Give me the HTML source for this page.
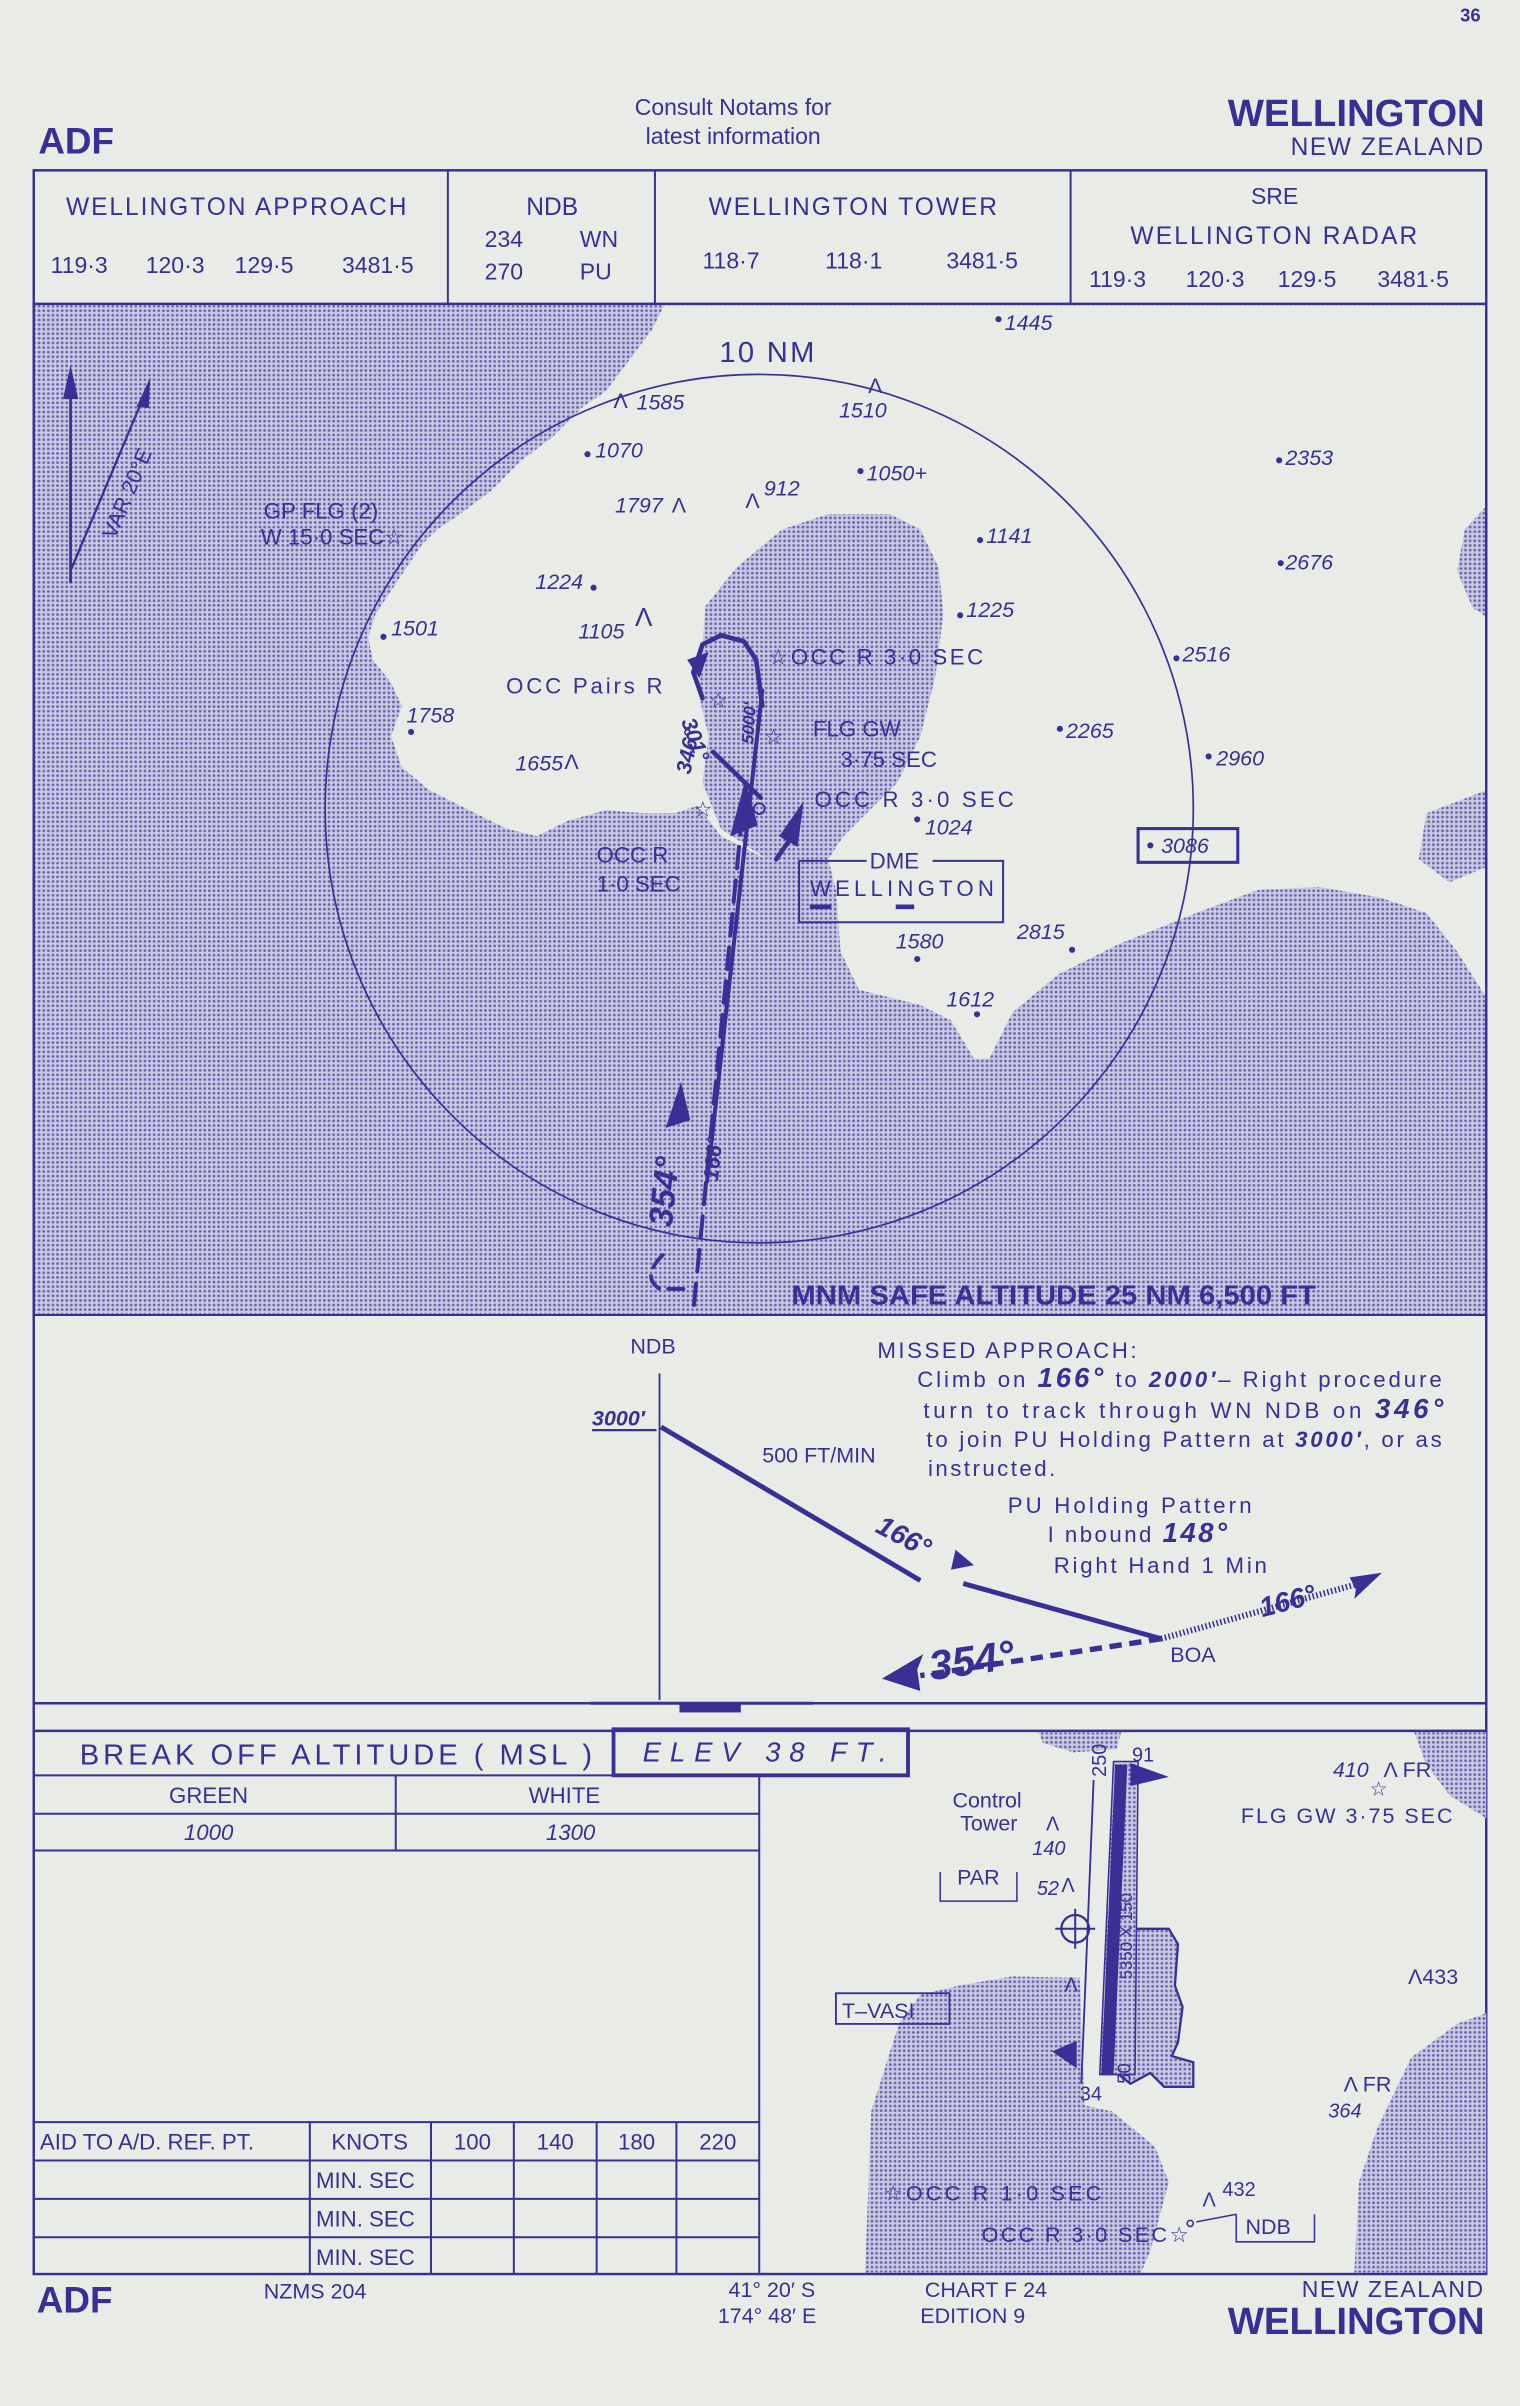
<!DOCTYPE html>
<html><head><meta charset="utf-8"><style>
html,body{margin:0;padding:0;background:#e8ebe6;}
svg{display:block;}
text{font-family:"Liberation Sans",sans-serif;fill:#3a2f95;}
.i{font-style:italic;}
.b{font-weight:bold;}
</style></head><body>
<svg width="1520" height="2406" viewBox="0 0 991 1568" preserveAspectRatio="none" xmlns="http://www.w3.org/2000/svg">
<defs>
<pattern id="ht" width="3" height="3" patternUnits="userSpaceOnUse">
<rect width="3" height="3" fill="#c9c9df"/><circle cx="1.5" cy="1.5" r="0.9" fill="#6a64b4"/>
</pattern>
</defs>
<rect width="991" height="1568" fill="#e8ebe6"/>
<g stroke="#3a2f95" fill="none">
<rect x="22" y="198" width="947" height="659" fill="url(#ht)" stroke="none"/>
<polygon stroke="none" fill="#e8ebe6" points="433,199 969,199 969,330 955,345 950,372 960,396 969,402 969,650 950,620 930,595 900,585 860,578 820,580 780,595 730,615 690,635 660,660 645,690 635,690 620,665 600,655 560,645 548,620 545,580 540,560 500,560 470,545 455,525 440,530 420,530 395,528 370,535 350,545 330,540 300,525 280,515 262,500 255,480 262,460 255,445 243,430 240,415 245,400 255,385 265,370 275,355 285,345 300,335 320,320 340,300 360,285 380,265 395,255 410,235 425,215"/>
<polygon stroke="none" fill="url(#ht)" points="460,395 480,370 510,345 540,335 580,335 600,345 612,370 615,400 610,440 600,480 585,510 565,530 550,545 540,560 500,560 470,540 458,510 462,480 455,450 458,420"/>
<polygon stroke="none" fill="url(#ht)" points="930,530 969,515 969,565 945,575 925,560"/>
<rect x="22" y="111" width="947" height="1371" stroke-width="1.6"/>
<line x1="22" y1="198" x2="969" y2="198" stroke-width="1.6"/>
<line x1="292" y1="111" x2="292" y2="198" stroke-width="1.3"/>
<line x1="427" y1="111" x2="427" y2="198" stroke-width="1.3"/>
<line x1="698" y1="111" x2="698" y2="198" stroke-width="1.3"/>
<line x1="22" y1="857" x2="969" y2="857" stroke-width="1.3"/>
<line x1="22" y1="1110" x2="969" y2="1110" stroke-width="1.6"/>
<line x1="22" y1="1128" x2="969" y2="1128" stroke-width="1.6"/>
<circle cx="495" cy="527" r="283" stroke-width="1.1"/>
<line x1="46" y1="380" x2="46" y2="245" stroke-width="1.8"/>
<line x1="46" y1="372" x2="96" y2="253" stroke-width="1.5"/>
</g>
<polygon points="46,238 41,260 51,260" fill="#3a2f95"/>
<polygon points="98,246 89,265 97,266" fill="#3a2f95"/>
<text x="0" y="0" font-size="14" transform="translate(75,352) rotate(-67)">VAR 20°E</text>

<text x="952" y="14" font-size="12" class="b">36</text>
<text x="25" y="100" font-size="24" class="b">ADF</text>
<text x="478" y="75" font-size="15" text-anchor="middle">Consult Notams for</text>
<text x="478" y="94" font-size="15" text-anchor="middle">latest information</text>
<text x="968" y="82" font-size="25" class="b" text-anchor="end">WELLINGTON</text>
<text x="968" y="101" font-size="16" text-anchor="end" letter-spacing="1">NEW ZEALAND</text>
<text x="43" y="140" font-size="16" textLength="222" lengthAdjust="spacing">WELLINGTON APPROACH</text>
<text x="33" y="178" font-size="15">119·3</text><text x="95" y="178" font-size="15">120·3</text><text x="153" y="178" font-size="15">129·5</text><text x="223" y="178" font-size="15">3481·5</text>
<text x="360" y="140" font-size="16" text-anchor="middle">NDB</text>
<text x="316" y="161" font-size="15">234</text><text x="378" y="161" font-size="15">WN</text>
<text x="316" y="182" font-size="15">270</text><text x="378" y="182" font-size="15">PU</text>
<text x="462" y="140" font-size="16" textLength="188" lengthAdjust="spacing">WELLINGTON TOWER</text>
<text x="458" y="175" font-size="15">118·7</text><text x="538" y="175" font-size="15">118·1</text><text x="617" y="175" font-size="15">3481·5</text>
<text x="831" y="133" font-size="15" text-anchor="middle">SRE</text>
<text x="737" y="159" font-size="16" textLength="187" lengthAdjust="spacing">WELLINGTON RADAR</text>
<text x="710" y="187" font-size="15">119·3</text><text x="773" y="187" font-size="15">120·3</text><text x="833" y="187" font-size="15">129·5</text><text x="898" y="187" font-size="15">3481·5</text>

<g font-size="14" class="i">
<text x="469" y="236" font-size="19" font-style="normal" textLength="62" lengthAdjust="spacing">10 NM</text>
<text x="655" y="215">1445</text><circle cx="651" cy="208" r="2" fill="#3a2f95"/>
<text x="415" y="267">1585</text><text x="400" y="266" font-style="normal">Λ</text>
<text x="547" y="272">1510</text><text x="566" y="256" font-style="normal">Λ</text>
<text x="388" y="298">1070</text><circle cx="383" cy="296" r="2" fill="#3a2f95"/>
<text x="565" y="313">1050+</text><circle cx="561" cy="307" r="2" fill="#3a2f95"/>
<text x="838" y="303">2353</text><circle cx="834" cy="300" r="2" fill="#3a2f95"/>
<text x="401" y="334">1797</text><text x="438" y="334" font-style="normal">Λ</text>
<text x="498" y="323">912</text><text x="486" y="331" font-style="normal">Λ</text>
<text x="643" y="354">1141</text><circle cx="639" cy="352" r="2" fill="#3a2f95"/>
<text x="838" y="371">2676</text><circle cx="835" cy="367" r="2" fill="#3a2f95"/>
<text x="349" y="384">1224</text><circle cx="387" cy="383" r="2" fill="#3a2f95"/>
<text x="630" y="402">1225</text><circle cx="626" cy="401" r="2" fill="#3a2f95"/>
<text x="255" y="414">1501</text><circle cx="250" cy="415" r="2" fill="#3a2f95"/>
<text x="377" y="416">1105</text><text x="414" y="408" font-size="17" font-style="normal">Λ</text>
<text x="771" y="431">2516</text><circle cx="767" cy="429" r="2" fill="#3a2f95"/>
<text x="265" y="471">1758</text><circle cx="268" cy="477" r="2" fill="#3a2f95"/>
<text x="695" y="481">2265</text><circle cx="691" cy="475" r="2" fill="#3a2f95"/>
<text x="793" y="499">2960</text><circle cx="788" cy="493" r="2" fill="#3a2f95"/>
<text x="336" y="502">1655</text><text x="368" y="501" font-style="normal">Λ</text>
<text x="603" y="544">1024</text><circle cx="598" cy="534" r="2" fill="#3a2f95"/>
<text x="584" y="618">1580</text><circle cx="598" cy="625" r="2" fill="#3a2f95"/>
<text x="663" y="612">2815</text><circle cx="699" cy="619" r="2" fill="#3a2f95"/>
<text x="617" y="656">1612</text><circle cx="637" cy="661" r="2" fill="#3a2f95"/>
</g>
<g font-size="14.5">
<text x="172" y="338">GP FLG (2)</text>
<text x="170" y="355">W 15·0 SEC☆</text>
<text x="501" y="433" textLength="140" lengthAdjust="spacing">☆OCC R 3·0 SEC</text>
<text x="330" y="452" textLength="102" lengthAdjust="spacing">OCC Pairs R</text>
<text x="530" y="480">FLG GW</text>
<text x="548" y="500">3·75 SEC</text>
<text x="531" y="526" textLength="130" lengthAdjust="spacing">OCC R 3·0 SEC</text>
<text x="389" y="562">OCC R</text>
<text x="389" y="581">1·0 SEC</text>
<text x="567" y="566">DME</text>
<text x="528" y="584" textLength="120" lengthAdjust="spacing">WELLINGTON</text>
</g>
<g stroke="#3a2f95" fill="none">
<rect x="742" y="540" width="65" height="22" stroke-width="2"/>
<path d="M565,561 H521 V601 H654 V561 H608" stroke-width="1.3"/>
<line x1="528" y1="591" x2="542" y2="591" stroke-width="3"/>
<line x1="584" y1="591" x2="596" y2="591" stroke-width="3"/>
</g>
<text x="757" y="556" font-size="14" class="i">3086</text><circle cx="750" cy="551" r="2" fill="#3a2f95"/>
<text x="516" y="850" font-size="18" class="b" textLength="342" lengthAdjust="spacingAndGlyphs">MNM SAFE ALTITUDE 25 NM 6,500 FT</text>

<g stroke="#3a2f95" fill="none" stroke-linecap="round">
<line x1="497" y1="450" x2="461" y2="770" stroke-width="2.6"/>
<line x1="484" y1="530" x2="452" y2="855" stroke-width="2.6" stroke-dasharray="14,8"/>
<path d="M497,460 L493,430 L485,418 L470,414 L458,420 L452,438 L458,455" stroke-width="3"/>
<path d="M432,818 Q418,832 430,840 L448,840" stroke-width="2.5" stroke-dasharray="10,6"/>
<line x1="465" y1="490" x2="496" y2="520" stroke-width="3"/>
<line x1="506" y1="560" x2="520" y2="540" stroke-width="3"/>
</g>
<polygon points="486,508 476,545 494,538" fill="#3a2f95"/>
<polygon points="524,522 508,545 520,552" fill="#3a2f95"/>
<polygon points="444,705 434,735 450,730" fill="#3a2f95"/>
<polygon points="462,425 448,430 456,442" fill="#3a2f95"/>
<text x="0" y="0" font-size="22" class="b i" transform="translate(438,800) rotate(-84)">354°</text>
<text x="0" y="0" font-size="14" class="b i" transform="translate(468,770) rotate(-84)">166°</text>
<text x="0" y="0" font-size="14" class="b i" transform="translate(450,505) rotate(-78)">346°</text>
<text x="0" y="0" font-size="14" class="b i" transform="translate(444,470) rotate(70)">301°</text>
<text x="0" y="0" font-size="11" class="b i" transform="translate(491,485) rotate(-86)">5000'</text>
<circle cx="495" cy="527" r="3.5" fill="none" stroke="#3a2f95" stroke-width="1.2"/>
<text x="462" y="461" font-size="14">☆</text><text x="498" y="485" font-size="14">☆</text><text x="452" y="532" font-size="14">☆</text>

<g stroke="#3a2f95" fill="none">
<line x1="430" y1="895" x2="430" y2="1108" stroke-width="1.2"/>
<line x1="386" y1="932" x2="428" y2="932" stroke-width="1.5"/>
<line x1="431" y1="930" x2="600" y2="1030" stroke-width="3.2"/>
<line x1="628" y1="1032" x2="757" y2="1068" stroke-width="3.2"/>
<line x1="757" y1="1068" x2="600" y2="1092" stroke-width="3.5" stroke-dasharray="8,5"/>
<line x1="757" y1="1068" x2="886" y2="1032" stroke-width="4" stroke-dasharray="1,1.5"/>
<line x1="385" y1="1110" x2="530" y2="1110" stroke-width="2"/>
</g>
<rect x="443" y="1110" width="40" height="6" fill="#3a2f95"/>
<polygon points="575,1094 602,1078 598,1088 600,1102" fill="#3a2f95"/>
<polygon points="901,1025 880,1028 884,1036 883,1042" fill="#3a2f95"/>
<polygon points="623,1010 635,1020 620,1023" fill="#3a2f95"/>
<text x="411" y="882" font-size="14">NDB</text>
<text x="386" y="929" font-size="14" class="b i">3000′</text>
<text x="497" y="953" font-size="14">500 FT/MIN</text>
<text x="0" y="0" font-size="18" class="b i" transform="translate(570,998) rotate(28)">166°</text>
<text x="0" y="0" font-size="27" class="b i" transform="translate(607,1095) rotate(-8)">354°</text>
<text x="0" y="0" font-size="18" class="b i" transform="translate(823,1054) rotate(-15)">166°</text>
<text x="763" y="1083" font-size="14">BOA</text>
<g font-size="14.5">
<text x="572" y="885" textLength="169" lengthAdjust="spacing">MISSED APPROACH:</text>
<text x="598" y="904" textLength="342" lengthAdjust="spacing">Climb on <tspan class="b i" font-size="18">166°</tspan> to <tspan class="b i">2000′</tspan>– Right procedure</text>
<text x="602" y="924" textLength="339" lengthAdjust="spacing">turn to track through WN NDB on <tspan class="b i" font-size="18">346°</tspan></text>
<text x="604" y="943" textLength="336" lengthAdjust="spacing">to join PU Holding Pattern at <tspan class="b i">3000′</tspan>, or as</text>
<text x="605" y="962" textLength="83" lengthAdjust="spacing">instructed.</text>
<text x="657" y="986" textLength="159" lengthAdjust="spacing">PU Holding Pattern</text>
<text x="683" y="1005" textLength="117" lengthAdjust="spacing">I nbound <tspan class="b i" font-size="18">148°</tspan></text>
<text x="687" y="1025" textLength="139" lengthAdjust="spacing">Right Hand 1 Min</text>
</g>

<text x="52" y="1150" font-size="19" textLength="334" lengthAdjust="spacing">BREAK OFF ALTITUDE  ( MSL )</text>
<rect x="400" y="1127" width="192" height="30" fill="none" stroke="#3a2f95" stroke-width="2.5"/>
<text x="419" y="1148" font-size="18" class="i" textLength="159" lengthAdjust="spacing">ELEV     38    FT.</text>
<g stroke="#3a2f95" stroke-width="1.3" fill="none">
<line x1="22" y1="1157" x2="495" y2="1157"/>
<line x1="22" y1="1182" x2="495" y2="1182"/>
<line x1="22" y1="1206" x2="495" y2="1206"/>
<line x1="258" y1="1157" x2="258" y2="1206"/>
<line x1="495" y1="1157" x2="495" y2="1482"/>
<line x1="22" y1="1383" x2="495" y2="1383"/>
<line x1="22" y1="1408" x2="495" y2="1408"/>
<line x1="22" y1="1433" x2="495" y2="1433"/>
<line x1="22" y1="1458" x2="495" y2="1458"/>
<line x1="202" y1="1383" x2="202" y2="1482"/>
<line x1="281" y1="1383" x2="281" y2="1482"/>
<line x1="335" y1="1383" x2="335" y2="1482"/>
<line x1="389" y1="1383" x2="389" y2="1482"/>
<line x1="441" y1="1383" x2="441" y2="1482"/>
</g>
<g font-size="14.5">
<text x="136" y="1175" text-anchor="middle">GREEN</text>
<text x="368" y="1175" text-anchor="middle">WHITE</text>
<text x="136" y="1199" text-anchor="middle" class="i">1000</text>
<text x="372" y="1199" text-anchor="middle" class="i">1300</text>
<text x="26" y="1401">AID TO A/D. REF. PT.</text>
<text x="241" y="1401" text-anchor="middle">KNOTS</text>
<text x="308" y="1401" text-anchor="middle">100</text>
<text x="362" y="1401" text-anchor="middle">140</text>
<text x="415" y="1401" text-anchor="middle">180</text>
<text x="468" y="1401" text-anchor="middle">220</text>
<text x="206" y="1426">MIN. SEC</text>
<text x="206" y="1451">MIN. SEC</text>
<text x="206" y="1476">MIN. SEC</text>
</g>

<polygon fill="url(#ht)" points="625,1294 660,1288 704,1289 707,1372 725,1376 753,1399 762,1422 750,1467 744,1481 564,1481 568,1376 586,1319 600,1300"/>
<polygon fill="url(#ht)" points="969,1312 950,1319 920,1341 898,1387 886,1422 883,1481 969,1481"/>
<polygon fill="url(#ht)" points="922,1129 969,1129 969,1185 945,1170 930,1150"/>
<polygon fill="url(#ht)" points="677,1129 731,1129 728,1140 700,1142 680,1136"/>
<polygon fill="url(#ht)" stroke="#3a2f95" stroke-width="1.5" points="737,1257 762,1257 768,1267 766,1294 771,1308 768,1331 764,1340 778,1344 778,1360 759,1360 750,1351 737,1358 728,1351"/>
<polygon fill="url(#ht)" stroke="#3a2f95" stroke-width="1" points="726,1148 742,1148 740,1352 717,1352"/>
<polygon fill="#3a2f95" points="727,1150 735,1150 726,1352 718,1352"/>
<line x1="713" y1="1160" x2="705" y2="1358" stroke="#3a2f95" stroke-width="1.2"/>
<polygon points="737,1149 762,1158 737,1164" fill="#3a2f95"/>
<polygon points="686,1337 702,1330 702,1348" fill="#3a2f95"/>
<circle cx="701" cy="1257" r="9" fill="none" stroke="#3a2f95" stroke-width="1.5"/>
<line x1="688" y1="1257" x2="714" y2="1257" stroke="#3a2f95" stroke-width="1.3"/>
<line x1="701" y1="1244" x2="701" y2="1270" stroke="#3a2f95" stroke-width="1.3"/>
<text x="0" y="0" font-size="13" transform="translate(721,1158) rotate(-90)">250</text>
<text x="0" y="0" font-size="11" transform="translate(738,1290) rotate(-90)">5350 X 150</text>
<text x="0" y="0" font-size="12" transform="translate(737,1358) rotate(-90)">50</text>
<text x="738" y="1148" font-size="13">91</text>
<text x="704" y="1369" font-size="13">34</text>
<text x="621" y="1178" font-size="14">Control</text>
<text x="626" y="1193" font-size="14">Tower</text>
<text x="682" y="1193" font-size="13">Λ</text>
<text x="673" y="1209" font-size="13" class="i">140</text>
<path d="M613,1220 V1239 H663 V1220" fill="none" stroke="#3a2f95" stroke-width="1"/>
<text x="624" y="1228" font-size="14">PAR</text>
<text x="676" y="1235" font-size="13" class="i">52</text>
<text x="692" y="1233" font-size="13">Λ</text>
<text x="694" y="1298" font-size="13">Λ</text>
<rect x="545" y="1299" width="74" height="20" fill="none" stroke="#3a2f95" stroke-width="1.2"/>
<text x="549" y="1315" font-size="14">T–VASI</text>
<text x="869" y="1158" font-size="14" class="i">410</text>
<text x="902" y="1158" font-size="14">Λ FR</text>
<text x="893" y="1170" font-size="13">☆</text>
<text x="809" y="1188" font-size="14" textLength="138" lengthAdjust="spacing">FLG GW 3·75 SEC</text>
<text x="918" y="1293" font-size="14">Λ433</text>
<text x="876" y="1363" font-size="14">Λ FR</text>
<text x="866" y="1380" font-size="13" class="i">364</text>
<text x="576" y="1434" font-size="14" textLength="142" lengthAdjust="spacing">☆OCC R 1·0 SEC</text>
<text x="640" y="1461" font-size="14" textLength="135" lengthAdjust="spacing">OCC R 3·0 SEC☆</text>
<circle cx="776" cy="1449" r="2" fill="none" stroke="#3a2f95"/>
<text x="784" y="1438" font-size="13">Λ</text>
<text x="797" y="1431" font-size="13">432</text>
<path d="M780,1448 L806,1443 M806,1443 V1461 H857 V1443" fill="none" stroke="#3a2f95" stroke-width="1"/>
<text x="812" y="1456" font-size="14">NDB</text>

<text x="24" y="1507" font-size="24" class="b">ADF</text>
<text x="172" y="1498" font-size="14">NZMS 204</text>
<text x="475" y="1497" font-size="14">41° 20′ S</text>
<text x="468" y="1514" font-size="14">174° 48′ E</text>
<text x="603" y="1497" font-size="14">CHART    F 24</text>
<text x="600" y="1514" font-size="14">EDITION    9</text>
<text x="968" y="1497" font-size="15" text-anchor="end" letter-spacing="1">NEW ZEALAND</text>
<text x="968" y="1521" font-size="25" class="b" text-anchor="end">WELLINGTON</text>
</svg>
</body></html>
